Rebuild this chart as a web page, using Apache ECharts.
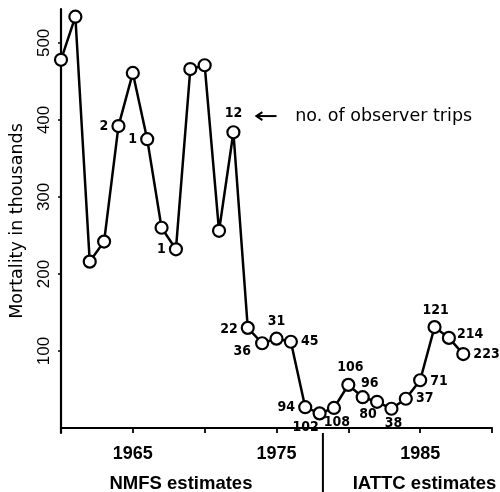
<!DOCTYPE html>
<html>
<head>
<meta charset="utf-8">
<script src="https://cdn.jsdelivr.net/npm/echarts@6/dist/echarts.min.js"></script>
<style>
html,body{margin:0;padding:0;background:#fff;}
#chart{width:500px;height:492px;}
</style>
</head>
<body>
<div id="chart"></div>
<script>
// ---- data ----
var years = [1960,1961,1962,1963,1964,1965,1966,1967,1968,1969,1970,1971,1972,1973,1974,1975,1976,1977,1978,1979,1980,1981,1982,1983,1984,1985,1986,1987,1988];
var mortality = [478,534,216,242,392,461,375,260,232,466,471,256,384,130,110,116,112,27,19,26,56,40,34,25,38,62,131,117,96];
var trips = [null,null,null,null,'2',null,'1',null,'1',null,null,null,'12','22','36','31','45','94','102','108','106','96','80','38','37','71','121','214','223'];
var yTickValues = [100,200,300,400,500];
var xLabelYears = [1965,1975,1985];

// label placement for the observer-trip numbers (position, dx, dy)
var labelPlace = {
  '1964':['left',0,0], '1966':['left',0,0], '1968':['left',0,0],
  '1972':['top',0,-2], '1973':['left',0,1], '1974':['left',-1,8],
  '1975':['top',0,0], '1976':['right',0,0], '1977':['left',0,0],
  '1978':['bottom',-14,-3], '1979':['bottom',3,-3], '1980':['top',2,0],
  '1981':['top',7,3], '1982':['bottom',-9,-5], '1983':['bottom',2,-2],
  '1984':['right',0,0], '1985':['right',0,1], '1986':['top',1,0],
  '1987':['right',-2,-4], '1988':['right',0,0]
};

var seriesData = years.map(function (yr, i) {
  var item = { value: [yr, mortality[i]] };
  if (trips[i]) {
    var p = labelPlace[String(yr)] || ['top',0,0];
    item.label = { show: true, formatter: trips[i], position: p[0], offset: [p[1], p[2]], distance: 3 };
  }
  return item;
});

var chart = echarts.init(document.getElementById('chart'), null, { renderer: 'canvas' });
var black = '#000';
chart.setOption({
  animation: false,
  backgroundColor: '#fff',
  grid: { left: 61, right: 8, top: 9, bottom: 59, containLabel: false },
  xAxis: {
    type: 'value', min: 1960, max: 1990, interval: 5,
    splitLine: { show: false },
    axisLine: { show: true, lineStyle: { color: black, width: 2.2 } },
    axisTick: { show: true, length: 5, lineStyle: { color: black, width: 1.8 } },
    axisLabel: {
      margin: 12, color: black, fontFamily: 'Liberation Sans', fontWeight: 'bold', fontSize: 18,
      formatter: function (v) { return xLabelYears.indexOf(v) >= 0 ? String(v) : ''; }
    }
  },
  yAxis: {
    type: 'value', min: -6.5, max: 544,
    name: 'Mortality in thousands', nameLocation: 'middle', nameGap: 35,
    nameTextStyle: { color: black, fontFamily: 'DejaVu Sans', fontSize: 17.5, fontWeight: 500 },
    splitLine: { show: false },
    axisLine: { show: true, lineStyle: { color: black, width: 2.2 } },
    axisTick: { show: true, length: 3, customValues: yTickValues, lineStyle: { color: black, width: 1.5 } },
    axisLabel: {
      rotate: 90, margin: 8, color: black, fontFamily: 'Liberation Sans', fontSize: 17,
      customValues: yTickValues
    }
  },
  series: [{
    type: 'line',
    data: seriesData,
    symbol: 'circle', symbolSize: 12,
    itemStyle: { color: '#fff', borderColor: black, borderWidth: 2.2 },
    lineStyle: { color: black, width: 2.5 },
    label: { show: false, color: black, fontFamily: 'DejaVu Sans Condensed', fontWeight: 'bold', fontSize: 14 },
    z: 3
  }]
});

function px(x, y) { return chart.convertToPixel({ xAxisIndex: 0, yAxisIndex: 0 }, [x, y]); }
var H = 492;
var arrowStart = px(1975.0, 405), arrowEnd = px(1973.6, 405);
var noteAt = px(1976.3, 405);
var divider = px(1978.23, -6.5);
var nmfs = px(1968.35, -6.5);
var iattc = px(1980.3, -6.5);

chart.setOption({
  graphic: [
    { type: 'line', shape: { x1: arrowStart[0], y1: arrowStart[1], x2: arrowEnd[0], y2: arrowEnd[1] }, style: { stroke: black, lineWidth: 2 } },
    { type: 'polyline', shape: { points: [[arrowEnd[0] + 6, arrowEnd[1] - 4], [arrowEnd[0], arrowEnd[1]], [arrowEnd[0] + 6, arrowEnd[1] + 4]] }, style: { stroke: black, lineWidth: 2, fill: null } },
    { type: 'text', x: noteAt[0], y: noteAt[1], style: { text: 'no. of observer trips', fill: black, font: '17.5px "DejaVu Sans"', textAlign: 'left', textVerticalAlign: 'middle' } },
    { type: 'line', shape: { x1: divider[0], y1: divider[1], x2: divider[0], y2: H }, style: { stroke: black, lineWidth: 2 } },
    { type: 'text', x: nmfs[0], y: H - 8, style: { text: 'NMFS estimates', fill: black, font: 'bold 18.5px "Liberation Sans"', textAlign: 'center', textVerticalAlign: 'middle' } },
    { type: 'text', x: iattc[0], y: H - 8, style: { text: 'IATTC estimates', fill: black, font: 'bold 18.5px "Liberation Sans"', textAlign: 'left', textVerticalAlign: 'middle' } }
  ]
});
</script>
</body>
</html>
